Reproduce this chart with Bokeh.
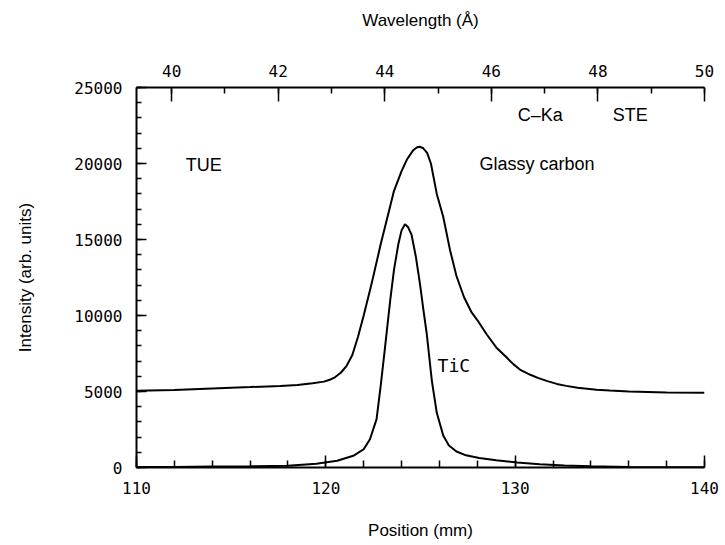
from bokeh.plotting import figure
from bokeh.models import LinearAxis, Range1d, FixedTicker
from bokeh.core.properties import value
from bokeh.embed import file_html
from bokeh.resources import INLINE

# ---- data ----
glassy_position = [110.0, 112.0, 114.0, 116.0, 117.6, 118.5, 119.3, 119.9, 120.2, 120.5,
                   120.8, 121.1, 121.4, 121.7, 122.0, 122.4, 122.9, 123.3, 123.6, 124.0,
                   124.3, 124.6, 124.8, 124.95, 125.15, 125.35, 125.55, 125.86, 126.2, 126.56,
                   126.9, 127.3, 127.7, 128.0, 128.5, 129.0, 129.5, 129.9, 130.3, 130.8,
                   131.2, 131.7, 132.2, 132.7, 133.3, 134.3, 135.0, 136.0, 138.0, 140.0]
glassy_intensity = [5050, 5100, 5200, 5290, 5370, 5420, 5550, 5650, 5770, 5950,
                    6250, 6690, 7400, 8600, 10000, 12000, 14700, 16700, 18200, 19500,
                    20300, 20850, 21050, 21100, 21000, 20700, 20000, 18000, 16500, 14300,
                    12600, 11200, 10200, 9700, 8750, 7900, 7300, 6800, 6400, 6100,
                    5900, 5680, 5500, 5370, 5250, 5120, 5060, 5000, 4930, 4920]

tic_position = [110.0, 112.0, 114.0, 116.0, 118.0, 119.5, 120.6, 121.45, 122.0, 122.33,
                122.68, 122.9, 123.1, 123.4, 123.6, 123.83, 124.0, 124.18, 124.35, 124.53,
                124.75, 124.97, 125.15, 125.33, 125.6, 125.86, 126.2, 126.5, 126.9, 127.4,
                128.1, 129.0, 130.1, 131.3, 132.6, 134.0, 136.0, 140.0]
tic_intensity = [30, 40, 60, 80, 110, 240, 440, 770, 1200, 1860,
                 3180, 5400, 7600, 11000, 13000, 14700, 15600, 16000, 15800, 15300,
                 13900, 12100, 10400, 8800, 5700, 3600, 2100, 1450, 1050, 800,
                 620, 470, 330, 220, 130, 80, 40, 10]

position_ticks = [110, 120, 130, 140]
intensity_ticks = [0, 5000, 10000, 15000, 20000, 25000]
wavelength_ticks = [40, 42, 44, 46, 48, 50]
wavelength_range = (39.34, 50.0)

label_texts = ["TUE", "C\u2013Ka", "STE", "Glassy carbon"]
label_x = [112.6, 130.13, 135.15, 128.12]
label_y = [19870, 23160, 23160, 20000]
tic_label = ["TiC"]
tic_label_x = [125.9]
tic_label_y = [6710]

SANS = "Liberation Sans"
MONO = "DejaVu Sans Mono"

p = figure(width=725, height=545, output_backend="svg", toolbar_location=None,
           x_range=Range1d(110, 140), y_range=Range1d(0, 25000),
           min_border_left=136, min_border_right=21, min_border_top=87, min_border_bottom=78)
p.outline_line_color = None
p.grid.visible = False
p.background_fill_color = "white"
p.border_fill_color = "white"

p.line(glassy_position, glassy_intensity, line_color="black", line_width=2)
p.line(tic_position, tic_intensity, line_color="black", line_width=2)

p.text(x=label_x, y=label_y, text=label_texts, text_font=value(SANS), text_font_size="18px",
       text_align="left", text_baseline="middle", text_color="black")
p.text(x=tic_label_x, y=tic_label_y, text=tic_label, text_font=value(MONO), text_font_size="18px",
       text_align="left", text_baseline="middle", text_color="black")

def style_axis(ax, maj_in, min_in, standoff):
    ax.axis_line_color = "black"
    ax.axis_line_width = 2
    ax.major_tick_out = 0
    ax.major_tick_in = maj_in
    ax.minor_tick_out = 0
    ax.minor_tick_in = min_in
    ax.major_tick_line_color = "black"
    ax.major_tick_line_width = 1.5
    ax.minor_tick_line_color = "black"
    ax.minor_tick_line_width = 1.5
    ax.major_label_text_font = MONO
    ax.major_label_text_font_size = "16px"
    ax.major_label_text_color = "black"
    ax.major_label_standoff = standoff
    ax.axis_label_text_font = SANS
    ax.axis_label_text_font_size = "17px"
    ax.axis_label_text_font_style = "normal"
    ax.axis_label_text_color = "black"

xa = p.xaxis[0]
xa.ticker = FixedTicker(ticks=position_ticks,
                        minor_ticks=[110 + 2 * i for i in range(16)])
xa.axis_label = "Position (mm)"
style_axis(xa, 12, 7, 14)
xa.axis_label_standoff = 24

ya = p.yaxis[0]
ya.ticker = FixedTicker(ticks=intensity_ticks,
                        minor_ticks=[1000 * i for i in range(26)])
ya.axis_label = "Intensity (arb. units)"
style_axis(ya, 10, 5, 14)
ya.axis_label_standoff = 36

p.extra_x_ranges = {"wl": Range1d(*wavelength_range)}
top = LinearAxis(x_range_name="wl", axis_label="Wavelength (\u00c5)",
                 ticker=FixedTicker(ticks=wavelength_ticks,
                                    minor_ticks=[39 + i for i in range(12)]))
style_axis(top, 14, 6, 11)
top.axis_label_standoff = 32
p.add_layout(top, "above")

open("out.html", "w").write(file_html(p, INLINE))
